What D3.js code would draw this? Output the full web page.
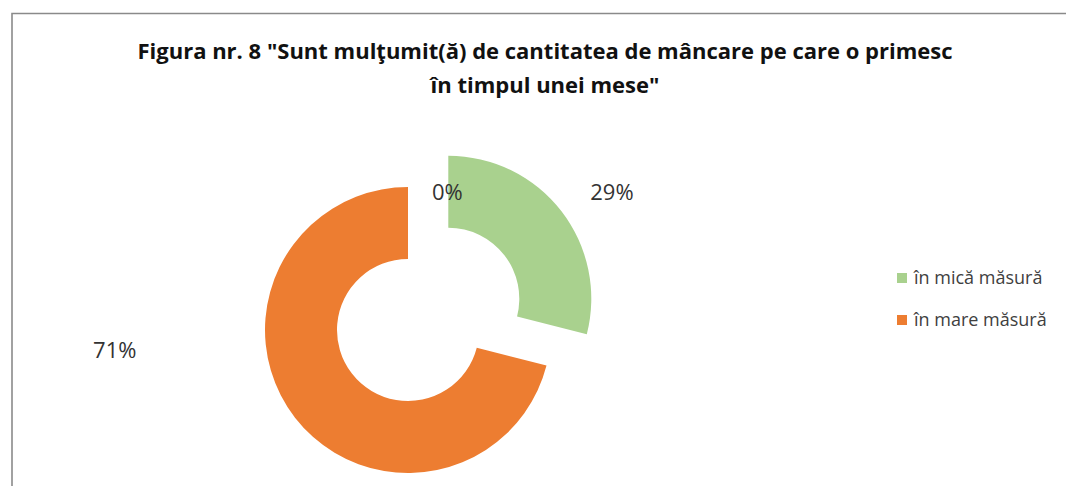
<!DOCTYPE html>
<html>
<head>
<meta charset="utf-8">
<script src="https://d3js.org/d3.v7.min.js"></script>
<style>
  body { margin: 0; background: #fff; }
  svg { display: block; }
  .lbl { font-family: 'Open Sans', sans-serif; font-size: 22px; fill: #333; }
  .legend text { font-family: 'Open Sans', sans-serif; font-size: 18px; fill: #404040; }
  .title { font-family: 'Open Sans', sans-serif; font-weight: bold; font-size: 22px; fill: #111; }
</style>
</head>
<body>
<svg width="1066" height="486"></svg>
<script>
// data
const titleLines = ['Figura nr. 8 "Sunt mulţumit(ă) de cantitatea de mâncare pe care o primesc', 'în timpul unei mese"'];
const categories = ["", "în mică măsură", "în mare măsură"];
const values = [0, 29, 71];
const colors = ["#A9D18E", "#A9D18E", "#ED7D31"];
const legendItems = [1, 2]; // index into categories

// layout
const svg = d3.select("svg");
const cx = 408, cy = 330, outerR = 143, innerR = 71;
const explode = [0, 51, 0];
// data label placement (degrees clockwise from top, distance from centre)
const labelAngle = [16, 56, 266];
const labelRadius = [143, 246, 294];

// frame (only top and left edges are visible in the crop)
svg.append("path")
  .attr("d", "M12,486 L12,13.5 L1066,13.5")
  .attr("fill", "none")
  .attr("stroke", "#8a8a8a")
  .attr("stroke-width", 1.6);

// title
const titleWidths = [820, 235];
titleLines.forEach((t, i) => {
  const txt = svg.append("text")
    .attr("class", "title")
    .attr("x", 545)
    .attr("y", 59 + i * 34)
    .attr("text-anchor", "middle")
    .text(t);
  const w = txt.node().getComputedTextLength();
  if (w > titleWidths[i]) {
    txt.attr("textLength", titleWidths[i]).attr("lengthAdjust", "spacingAndGlyphs");
  }
});

// donut
const pie = d3.pie().sort(null).value(d => d);
const arc = d3.arc().innerRadius(innerR).outerRadius(outerR);
const arcs = pie(values);

const g = svg.append("g").attr("transform", `translate(${cx},${cy})`);
g.selectAll("path")
  .data(arcs)
  .enter().append("path")
  .attr("d", arc)
  .attr("fill", (d, i) => colors[i])
  .attr("transform", (d, i) => {
    const m = (d.startAngle + d.endAngle) / 2;
    return `translate(${Math.sin(m) * explode[i]},${-Math.cos(m) * explode[i]})`;
  });

// data labels
g.selectAll("text")
  .data(arcs)
  .enter().append("text")
  .attr("class", "lbl")
  .attr("x", (d, i) => Math.sin(labelAngle[i] * Math.PI / 180) * labelRadius[i])
  .attr("y", (d, i) => -Math.cos(labelAngle[i] * Math.PI / 180) * labelRadius[i])
  .attr("dy", "0.36em")
  .attr("text-anchor", "middle")
  .text(d => d3.format(".0%")(d.data / d3.sum(values)));

// legend
const legend = svg.append("g").attr("class", "legend");
const li = legend.selectAll("g")
  .data(legendItems)
  .enter().append("g")
  .attr("transform", (d, i) => `translate(897,${273 + i * 42})`);
li.append("rect")
  .attr("width", 10).attr("height", 10)
  .attr("fill", d => colors[d]);
li.append("text")
  .attr("x", 17).attr("y", 5)
  .attr("dy", "0.36em")
  .text(d => categories[d]);
</script>
</body>
</html>
